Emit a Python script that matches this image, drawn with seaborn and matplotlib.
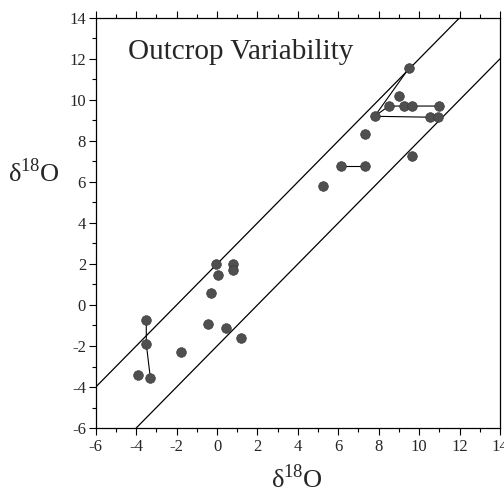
import matplotlib
matplotlib.use("Agg")
import pandas as pd
import seaborn as sns
import matplotlib.pyplot as plt
from matplotlib.ticker import MultipleLocator

# Sample points (delta 18O vs delta 18O).
pt_x = [-3.5, -3.5, -3.3, -3.9, -1.8, -0.45, 0.45, 1.2, -0.3, -0.05, 0.05, 0.8, 0.8,
        5.25, 6.15, 7.3, 7.3, 7.8, 8.5, 9.25, 9.65, 11.0, 10.55, 10.95, 9.65, 9.5, 9.0]
pt_y = [-0.75, -1.9, -3.55, -3.4, -2.3, -0.95, -1.1, -1.6, 0.6, 2.0, 1.45, 2.0, 1.7,
        5.8, 6.8, 6.8, 8.35, 9.2, 9.7, 9.7, 9.7, 9.7, 9.15, 9.15, 7.25, 11.55, 10.2]

# Tie lines joining samples from the same outcrop.
tie_group = ["a", "a", "a", "b", "b", "c", "c", "c", "d", "d", "d"]
tie_x = [-3.5, -3.5, -3.3, 6.15, 7.3, 9.5, 7.8, 10.95, 7.8, 8.5, 11.0]
tie_y = [-0.75, -1.9, -3.55, 6.8, 6.8, 11.55, 9.2, 9.15, 9.2, 9.7, 9.7]

# 1:1 band, +/- 2 permil
band_offsets = [2, -2]

title = "Outcrop Variability"
axis_label = "δ$^{18}$O"

sns.set_style("ticks")
plt.rcParams["font.family"] = ["Liberation Serif", "DejaVu Serif"]
plt.rcParams["mathtext.fontset"] = "custom"
plt.rcParams["mathtext.rm"] = "Liberation Serif"
plt.rcParams["axes.unicode_minus"] = False

fig = plt.figure(figsize=(5.04, 4.96), dpi=100)
ax = fig.add_axes([0.19, 0.137, 0.802, 0.827])

for off in band_offsets:
    ax.axline((0, off), slope=1, color="black", lw=0.9, zorder=1)

ties = pd.DataFrame({"group": tie_group, "x": tie_x, "y": tie_y})
sns.lineplot(data=ties, x="x", y="y", units="group", estimator=None, sort=False,
             color="black", lw=0.8, legend=False, ax=ax, zorder=2)

pts = pd.DataFrame({"x": pt_x, "y": pt_y})
sns.scatterplot(data=pts, x="x", y="y", color="#4f4f4f", edgecolor="#3a3a3a",
                linewidth=0.5, s=48, ax=ax, zorder=3)

ax.set_xlim(-6, 14)
ax.set_ylim(-6, 14)
ax.xaxis.set_major_locator(MultipleLocator(2))
ax.xaxis.set_minor_locator(MultipleLocator(1))
ax.yaxis.set_major_locator(MultipleLocator(2))
ax.yaxis.set_minor_locator(MultipleLocator(1))
ax.tick_params(axis="x", which="both", bottom=True, top=True, direction="out",
               labelsize=12, pad=3, color="black", width=0.8)
ax.tick_params(axis="x", which="major", length=5)
ax.tick_params(axis="x", which="minor", length=3)
ax.tick_params(axis="y", which="both", left=True, right=False, direction="out",
               labelsize=12, pad=2, color="black", width=0.8)
ax.tick_params(axis="y", which="major", length=5)
ax.tick_params(axis="y", which="minor", length=3)
for s in ax.spines.values():
    s.set_linewidth(0.9)
    s.set_color("black")

ax.set_xlabel("")
ax.set_ylabel("")
ax.text(-4.4, 12.0, title, fontsize=21, ha="left", va="baseline")

fig.text(0.59, 0.006, axis_label, fontsize=19, ha="center", va="bottom")
fig.text(0.016, 0.633, axis_label, fontsize=19, ha="left", va="baseline")

fig.savefig("out.png", dpi=100)
